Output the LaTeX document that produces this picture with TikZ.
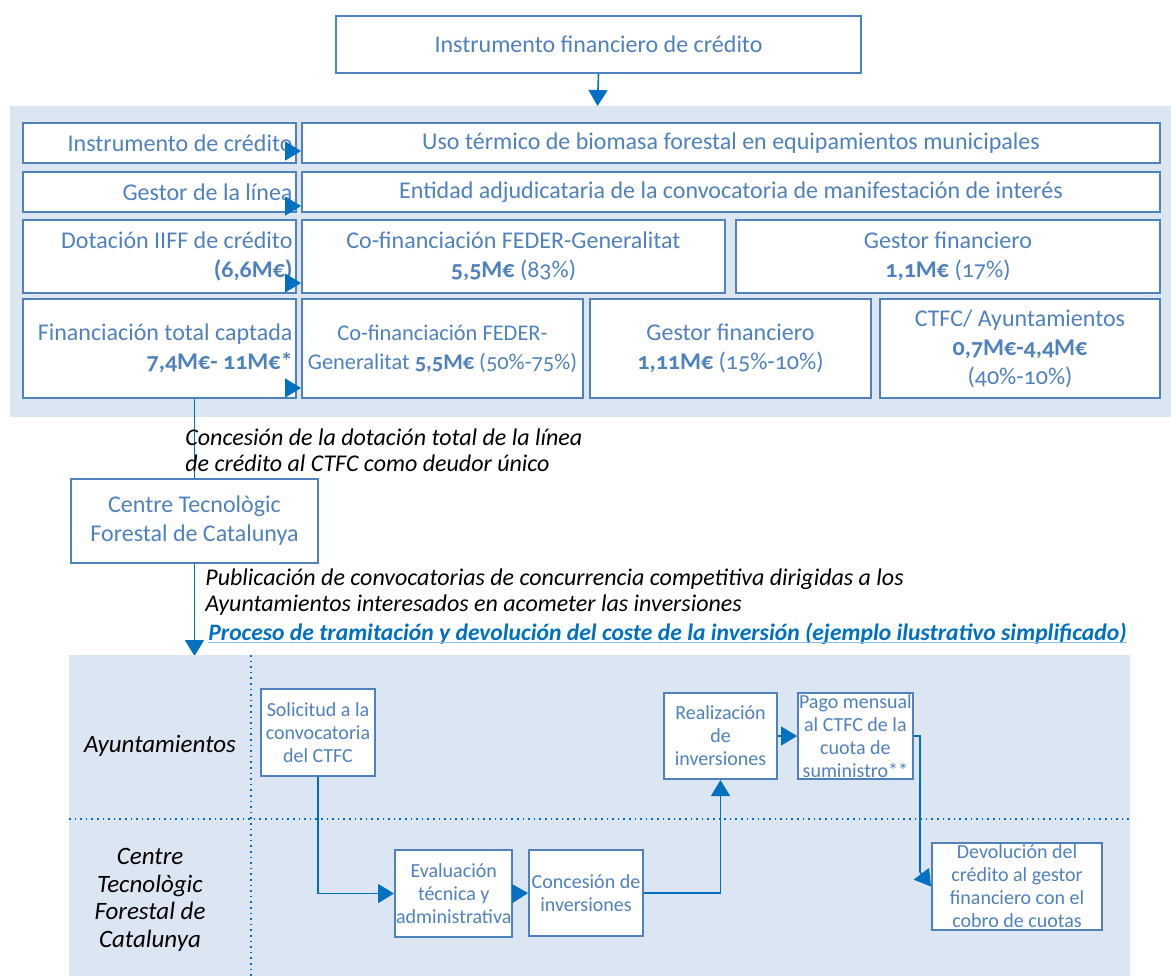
\documentclass[tikz,border=0pt]{standalone}
\usepackage{fontspec}
\setmainfont{Carlito}[Numbers=OldStyle]
\usetikzlibrary{arrows.meta}
\definecolor{panelbg}{HTML}{DCE6F2}
\definecolor{boxline}{HTML}{4F81BD}
\definecolor{boxtext}{HTML}{4F81BD}
\definecolor{flow}{HTML}{0070C0}
\tikzset{
  box/.style={draw=boxline, line width=1pt, fill=white, text=boxtext, anchor=north west,
    inner sep=1.5pt, font=\fontsize{12}{14.5}\selectfont, align=center},
  boxsize/.style 2 args={minimum width=#1*0.5pt, minimum height=#2*0.5pt},
  lefttext/.style={align=flush right, text width=133pt},
  smallbox/.style={box, inner sep=0.5pt, font=\fontsize{10}{11.5}\selectfont},
  flowline/.style={draw=flow, line width=0.8pt},
  tri/.style={flowline, -{Triangle[length=8pt,width=9.5pt]}},
  note/.style={anchor=west, inner sep=0pt, font=\fontsize{12}{13}\selectfont\itshape, align=left},
  lane/.style={font=\fontsize{12.5}{13.75}\selectfont\itshape, align=center},
  lanesep/.style={draw=flow, line width=0.8pt, dotted}
}
\begin{document}
\begin{tikzpicture}[x=0.5pt, y=-0.5pt]
\useasboundingbox (0,0) rectangle (1171,976);
% instrumento
\node[box, boxsize={525}{57}] (instr) at (335,15) {Instrumento financiero de crédito};
\coordinate (paneltop) at (597.5,106);
\draw[tri] (instr.south) -- (paneltop);

% panel de la linea
\fill[panelbg] (10,106) rectangle (1171,417);
\node[box, lefttext, boxsize={273}{40}] (inst) at (22,122) {Instrumento de crédito};
\node[box, boxsize={858}{40}] (uso) at (301,122) {Uso térmico de biomasa forestal en equipamientos municipales};
\node[box, lefttext, boxsize={273}{40}] (gest) at (22,171) {Gestor de la línea};
\node[box, boxsize={858}{40}] (ent) at (301,171) {Entidad adjudicataria de la convocatoria de manifestación de interés};
\node[box, lefttext, boxsize={273}{73}] (dot) at (22,219) {Dotación IIFF de crédito\\\textbf{(6,6M€)}};
\node[box, boxsize={423}{73}] (cof) at (301,219) {Co-financiación FEDER-Generalitat\\\textbf{5,5M€} (83\%)};
\node[box, boxsize={424}{73}] (gfin) at (735,219) {Gestor financiero\\\textbf{1,1M€} (17\%)};
\node[box, lefttext, boxsize={273}{99}] (fin) at (22,298) {Financiación total captada\\\textbf{7,4M€- 11M€*}};
\node[box, inner xsep=0pt, font=\fontsize{11.2}{14.5}\selectfont, boxsize={281}{99}] (cof2) at (301,298) {Co-financiación FEDER-\\Generalitat \textbf{5,5M€} (50\%-75\%)};
\node[box, boxsize={281}{99}] (gfin2) at (589,298) {Gestor financiero\\\textbf{1,11M€} (15\%-10\%)};
\node[box, boxsize={280}{99}] (ayto2) at (879,298) {CTFC/ Ayuntamientos\\\textbf{0,7M€-4,4M€}\\(40\%-10\%)};
\foreach \a/\b/\s in {inst/uso/13, gest/ent/7, dot/cof/11, fin/cof2/11}
  \draw[tri] ([yshift=\s*0.5pt]\a.south east) -- ([yshift=\s*0.5pt]\b.south west);

% CTFC
\node[box, boxsize={247}{84}] (ctfc) at (70,478) {Centre Tecnològic\\Forestal de Catalunya};
\draw[flowline] (ctfc.north |- fin.south) -- (ctfc.north);
\node[note] (conc1) at (185,450) {Concesión de la dotación total de la línea\\de crédito al CTFC como deudor único};
\node[note] (publ) at (205,592.5) {Publicación de convocatorias de concurrencia competitiva dirigidas a los\\Ayuntamientos interesados en acometer las inversiones};
\node[anchor=west, inner sep=0pt, text=flow, font=\fontsize{11.8}{13}\selectfont\bfseries\itshape] (proc) at (208,634)
  {Proceso de tramitación y devolución del coste de la inversión (ejemplo ilustrativo simplificado)};
\draw[draw=flow!45, line width=0.6pt] ([yshift=-1pt]proc.base west) -- ([yshift=-1pt]proc.base east);
\coordinate (lanetop) at (190,656);
\draw[tri] (ctfc.south) -- (ctfc.south |- lanetop);

% carriles
\fill[panelbg] (69,655) rectangle (1130,976);
\draw[lanesep] (251,655) -- (251,976);
\draw[lanesep] (69,819) -- (1130,819);
\node[lane] (ayto) at (160,746) {Ayuntamientos};
\node[lane] (ctfclane) at (150,900) {Centre\\Tecnològic\\Forestal de\\Catalunya};

\node[smallbox, boxsize={114}{87}] (sol) at (260,688) {Solicitud a la\\convocatoria\\del CTFC};
\node[smallbox, boxsize={114}{87}] (eval) at (394,849) {Evaluación\\técnica y\\administrativa};
\node[smallbox, boxsize={114}{86}] (conc) at (528,849) {Concesión de\\inversiones};
\node[smallbox, boxsize={113}{86}] (real) at (663,692) {Realización\\de\\inversiones};
\node[smallbox, boxsize={113}{86}] (pago) at (797,692) {Pago mensual\\al CTFC de la\\cuota de\\suministro**};
\node[smallbox, boxsize={170}{87}] (dev) at (931,842) {Devolución del\\crédito al gestor\\financiero con el\\cobro de cuotas};
\coordinate (bend) at (920,872);
\draw[tri] (sol.south) |- (eval.west);
\draw[tri] (eval.east) -- (conc.west);
\draw[tri] (conc.east) -| (real.south);
\draw[tri] (real.east) -- (pago.west);
\draw[tri] (pago.east) -| (bend) -- (dev.west);
\end{tikzpicture}
\end{document}
